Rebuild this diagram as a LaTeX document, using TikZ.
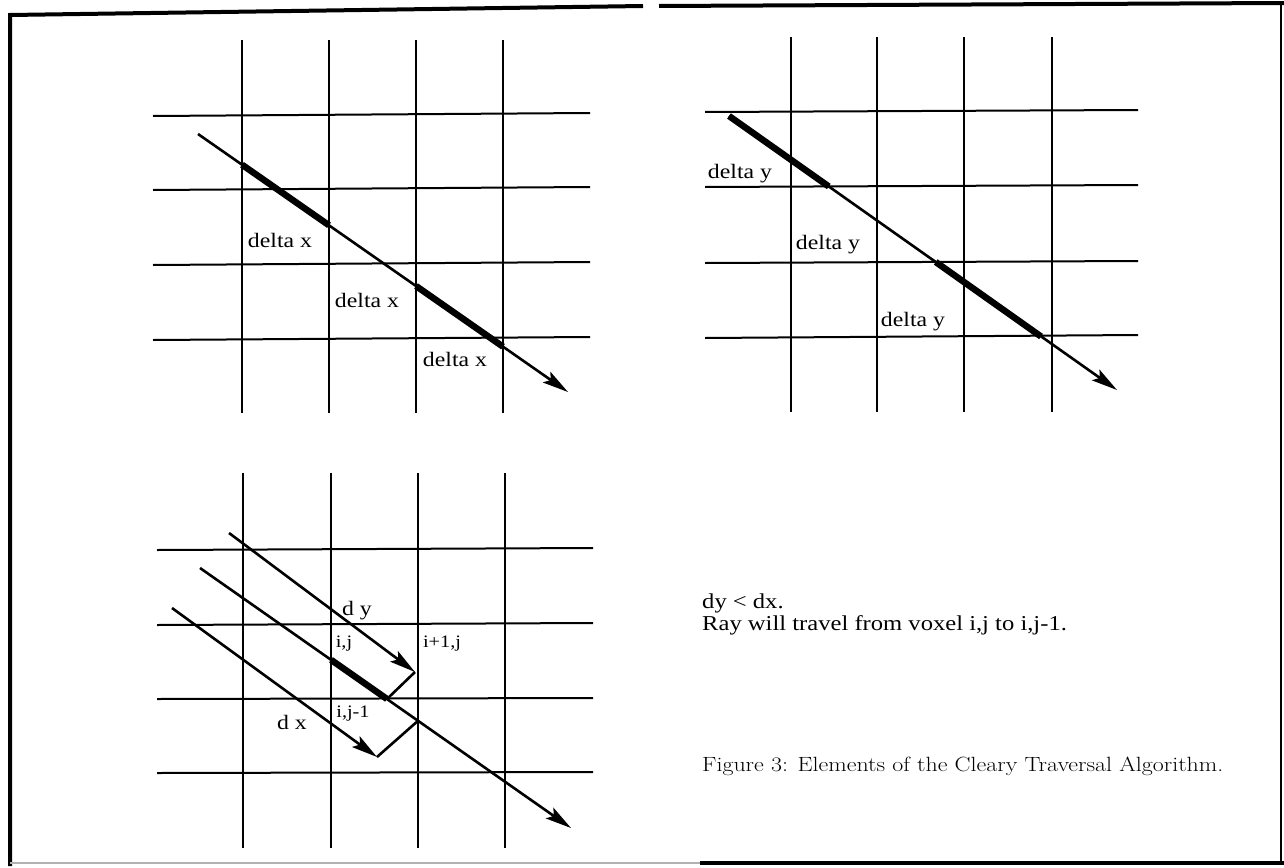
\documentclass[tikz,border=0pt]{standalone}
\usepackage{fontspec}
\newfontfamily\labfont{Liberation Serif}[FakeStretch=1.16]
\newfontfamily\capfont{Latin Modern Roman}[FakeStretch=1.16]
\usetikzlibrary{arrows.meta}
\begin{document}
\begin{tikzpicture}[x=1pt,y=-1pt,
  gridline/.style={line width=2pt},
  ray/.style={line width=2.6pt,-{Stealth[length=26pt,width=13pt,inset=5pt]}},
  plainray/.style={line width=2.6pt},
  thickseg/.style={line width=6.5pt},
  lab/.style={font=\labfont\fontsize{20.5}{24}\selectfont, inner sep=0pt},
  bodylab/.style={font=\labfont\fontsize{21.2}{24}\selectfont, inner sep=0pt, anchor=base west},
  smalllab/.style={font=\labfont\fontsize{17.5}{20}\selectfont, inner sep=0pt},
  caplab/.style={font=\capfont\fontsize{20.6}{24}\selectfont, inner sep=0pt, anchor=base west},
  framel/.style={line width=4pt}]
\useasboundingbox (0,0) rectangle (1284,867);
% frame
\draw[framel] (10,866) -- (10,15) -- (643,6);
\draw[framel] (659,6) -- (1284,3);
\draw[line width=2.5pt] (1281,4) -- (1281,864);
\draw[line width=2pt,gray!60] (10,863) -- (700,863);
\draw[framel] (700,863) -- (1284,863);

% ---------- top-left grid ----------
\foreach \x in {242,329,416,503} \draw[gridline] (\x,40) -- (\x,413);
\draw[gridline] (153,116) -- (590,113);
\draw[gridline] (153,190) -- (590,187);
\draw[gridline] (153,265) -- (590,262);
\draw[gridline] (153,340) -- (590,337);
\coordinate (tlA) at (198,134);
\coordinate (tlB) at (568,392);
\coordinate (tl1) at (242,164.7);
\coordinate (tl2) at (329,225.3);
\coordinate (tl3) at (416,286.0);
\coordinate (tl4) at (503,346.7);
\draw[ray] (tlA) -- (tlB);
\draw[thickseg] (tl1) -- (tl2);
\draw[thickseg] (tl3) -- (tl4);
\node[lab] (dx1) at (280,240) {delta x};
\node[lab] (dx2) at (367,300) {delta x};
\node[lab] (dx3) at (455,359) {delta x};

% ---------- top-right grid ----------
\foreach \x in {791,877,964,1052} \draw[gridline] (\x,37) -- (\x,412);
\draw[gridline] (705,112) -- (1138,110);
\draw[gridline] (705,187) -- (1138,185);
\draw[gridline] (705,263) -- (1138,261);
\draw[gridline] (705,338) -- (1138,335);
\coordinate (trA) at (729,116);
\coordinate (trB) at (1117,390);
\coordinate (tr1) at (828.8,186.5);
\coordinate (tr2) at (935.7,262);
\coordinate (tr3) at (1041,336.5);
\draw[ray] (trA) -- (trB);
\draw[thickseg] (trA) -- (tr1);
\draw[thickseg] (tr2) -- (tr3);
\node[lab] (dy1) at (740,174) {delta y};
\node[lab] (dy2) at (828,245) {delta y};
\node[lab] (dy3) at (913,322) {delta y};

% ---------- bottom-left grid ----------
\foreach \x in {243,331,418,505} \draw[gridline] (\x,473) -- (\x,848);
\draw[gridline] (157,550) -- (593,548);
\draw[gridline] (157,625) -- (593,623);
\draw[gridline] (157,699) -- (593,698);
\draw[gridline] (157,773) -- (593,772);
\coordinate (mA) at (200,568);
\coordinate (mB) at (571,828);
\coordinate (yA) at (229,533);
\coordinate (yB) at (415,672);
\coordinate (xA) at (172,608);
\coordinate (xB) at (377,757);
\coordinate (m1) at (331,659.8);
\coordinate (m2) at (387,699);
\coordinate (m3) at (418,720.8);
\draw[ray] (mA) -- (mB);
\draw[ray] (yA) -- (yB);
\draw[ray] (xA) -- (xB);
\draw[plainray] (yB) -- (m2);
\draw[plainray] (xB) -- (m3);
\draw[thickseg] (m1) -- (m2);
\node[lab] (ldy) at (357,611) {d y};
\node[smalllab] (lij) at (344,644) {i,j};
\node[smalllab] (lipj) at (442,644) {i+1,j};
\node[smalllab] (lijm) at (353,714) {i,j-1};
\node[lab] (ldx) at (292,722) {d x};

% ---------- text ----------
\node[bodylab] (t1) at (702,608) {dy < dx.};
\node[bodylab] (t2) at (702,630) {Ray will travel from voxel i,j to i,j-1.};
\node[caplab] (cap) at (702,771) {Figure 3: Elements of the Cleary Traversal Algorithm.};
\end{tikzpicture}
\end{document}
